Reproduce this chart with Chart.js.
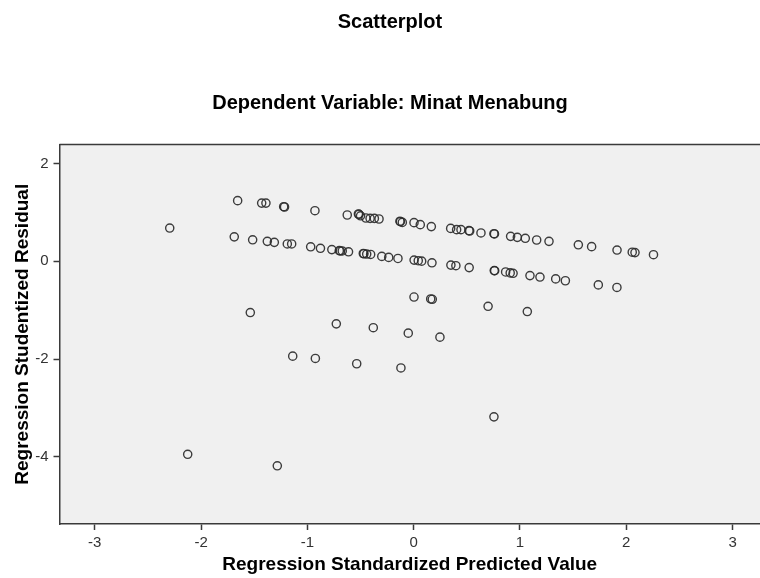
<!DOCTYPE html>
<html>
<head>
<meta charset="utf-8">
<script src="https://cdn.jsdelivr.net/npm/chart.js@4/dist/chart.umd.min.js"></script>
<style>
  html, body { margin: 0; padding: 0; background: #ffffff; }
  #wrap { width: 760px; height: 578px; }
</style>
</head>
<body>
<div id="wrap"><canvas id="c" width="760" height="578"></canvas></div>
<script>
// Regression Standardized Predicted Value (x) and Studentized Residual (y)
const predictedValues = [
  -1.656, -1.43, -1.39, -1.223, -1.215, -0.929, -0.625, -0.52, -0.515, -0.50,
  -0.45, -0.41, -0.37, -0.326, -0.129, -0.125, -0.107, 0.003, 0.062, 0.166,
  0.348, 0.404, 0.445, 0.52, 0.527, 0.633, 0.755, 0.76, 0.912, 0.975,
  1.05, 1.157, 1.273, 1.549, 1.674, 1.913, 2.056, 2.082, 2.256,
  -2.295, -1.688, -1.515, -1.377, -1.311, -1.189, -1.148, -0.969, -0.877, -0.770,
  -0.70, -0.69, -0.672, -0.613, -0.474, -0.468, -0.442, -0.405, -0.30, -0.235,
  -0.148, 0.004, 0.043, 0.075, 0.172, 0.35, 0.397, 0.522, 0.758, 0.762,
  0.865, 0.908, 0.935, 1.094, 1.188, 1.336, 1.427, 1.737, 1.912,
  0.003, 0.16, 0.175, 0.70, -1.537, 1.069, -0.728, -0.38, -0.051, 0.247,
  -1.138, -0.925, -0.536, -0.12, 0.755, -2.126, -1.283
];
const studentizedResiduals = [
  1.24, 1.19, 1.19, 1.116, 1.11, 1.035, 0.947, 0.967, 0.96, 0.93,
  0.885, 0.877, 0.877, 0.865, 0.82, 0.81, 0.796, 0.79, 0.75, 0.71,
  0.673, 0.647, 0.647, 0.627, 0.62, 0.58, 0.565, 0.559, 0.51, 0.49,
  0.47, 0.436, 0.408, 0.338, 0.30, 0.23, 0.186, 0.178, 0.135,
  0.68, 0.50, 0.44, 0.408, 0.388, 0.355, 0.355, 0.297, 0.266, 0.239,
  0.218, 0.212, 0.212, 0.195, 0.16, 0.155, 0.148, 0.14, 0.10, 0.08,
  0.058, 0.025, 0.012, 0.003, -0.03, -0.077, -0.09, -0.129, -0.19, -0.192,
  -0.218, -0.237, -0.245, -0.292, -0.322, -0.36, -0.397, -0.482, -0.534,
  -0.73, -0.77, -0.776, -0.92, -1.047, -1.027, -1.278, -1.357, -1.469, -1.55,
  -1.939, -1.986, -2.094, -2.18, -3.18, -3.945, -4.18
];
const xTickValues = [-3, -2, -1, 0, 1, 2, 3];
const yTickValues = [2, 0, -2, -4];
const chartTitle = "Scatterplot";
const chartSubtitle = "Dependent Variable: Minat Menabung";
const xAxisTitle = "Regression Standardized Predicted Value";
const yAxisTitle = "Regression Studentized Residual";

const points = predictedValues.map((x, i) => ({ x: x, y: studentizedResiduals[i] }));

const frameColor = '#3a3a3a';

const plotBackground = {
  id: 'plotBackground',
  beforeDraw(chart) {
    const a = chart.chartArea;
    const ctx = chart.ctx;
    ctx.save();
    ctx.fillStyle = '#f0f0f0';
    ctx.fillRect(a.left, a.top, a.right - a.left, a.bottom - a.top);
    ctx.restore();
  },
  afterDraw(chart) {
    const a = chart.chartArea;
    const ctx = chart.ctx;
    ctx.save();
    ctx.strokeStyle = frameColor;
    ctx.lineWidth = 1.5;
    ctx.beginPath();
    ctx.moveTo(a.left, a.top);
    ctx.lineTo(a.right, a.top);
    ctx.stroke();
    ctx.restore();
  }
};

function noPad(scale) {
  scale.paddingLeft = 0;
  scale.paddingRight = 0;
  scale.paddingTop = 0;
  scale.paddingBottom = 0;
}

new Chart(document.getElementById('c'), {
  type: 'scatter',
  data: {
    datasets: [{
      data: points,
      pointStyle: 'circle',
      pointRadius: 4.1,
      pointHoverRadius: 4.1,
      pointBorderWidth: 1.4,
      borderColor: 'rgba(45,45,45,0.92)',
      backgroundColor: 'rgba(0,0,0,0)'
    }]
  },
  options: {
    responsive: false,
    animation: false,
    devicePixelRatio: 1,
    layout: { autoPadding: false, padding: { left: 20, right: 0, top: 0, bottom: 0 } },
    plugins: {
      legend: { display: false },
      tooltip: { enabled: false },
      title: {
        display: true,
        text: chartTitle,
        color: '#000',
        font: { family: 'Liberation Sans, Arial, sans-serif', size: 20, weight: 'bold' },
        padding: { top: 10, bottom: 28 }
      },
      subtitle: {
        display: true,
        text: chartSubtitle,
        color: '#000',
        font: { family: 'Liberation Sans, Arial, sans-serif', size: 20, weight: 'bold' },
        padding: { top: 29, bottom: 29.5 }
      }
    },
    scales: {
      x: {
        type: 'linear',
        position: 'bottom',
        min: -3.332,
        max: 3.258,
        afterFit(scale) { scale.height = 54; noPad(scale); },
        afterBuildTicks(scale) { scale.ticks = xTickValues.map(v => ({ value: v })); },
        grid: { display: true, drawOnChartArea: false, drawTicks: true, tickLength: 6, tickWidth: 1.5, tickColor: frameColor },
        border: { display: true, color: frameColor, width: 1.5 },
        ticks: {
          color: '#333',
          padding: 4,
          font: { family: 'Liberation Sans, Arial, sans-serif', size: 15 },
          callback: v => String(v)
        },
        title: {
          display: true,
          text: xAxisTitle,
          color: '#000',
          font: { family: 'Liberation Sans, Arial, sans-serif', size: 19, weight: 'bold' },
          padding: { top: 0, bottom: 2 }
        }
      },
      y: {
        type: 'linear',
        position: 'left',
        min: -5.37,
        max: 2.388,
        afterFit(scale) { scale.width = 39.5; noPad(scale); },
        afterBuildTicks(scale) { scale.ticks = yTickValues.map(v => ({ value: v })); },
        grid: { display: true, drawOnChartArea: false, drawTicks: true, tickLength: 6, tickWidth: 1.5, tickColor: frameColor },
        border: { display: true, color: frameColor, width: 1.5 },
        ticks: {
          color: '#333',
          padding: 5,
          font: { family: 'Liberation Sans, Arial, sans-serif', size: 15 },
          callback: v => String(v)
        },
        title: {
          display: true,
          text: yAxisTitle,
          color: '#000',
          font: { family: 'Liberation Sans, Arial, sans-serif', size: 19, weight: 'bold' },
          padding: { top: -8.4, bottom: 0 }
        }
      }
    }
  },
  plugins: [plotBackground]
});
</script>
</body>
</html>
